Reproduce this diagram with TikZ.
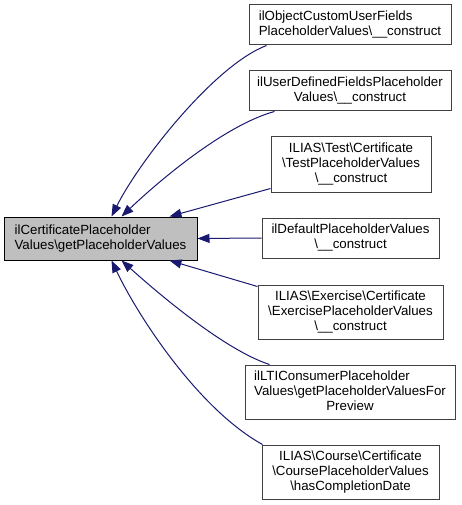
\documentclass[tikz,border=0pt]{standalone}
\usepackage{fontspec}
\setmainfont{Liberation Sans}
\usetikzlibrary{arrows.meta}
\definecolor{edgeblue}{HTML}{191970}
\definecolor{mainfill}{HTML}{BFBFBF}
\definecolor{boxline}{HTML}{404040}
\newcommand{\linesC}[1]{\begin{tabular}{@{}c@{}}#1\end{tabular}}
\newcommand{\linesL}[1]{\begin{tabular}{@{}l@{}}#1\end{tabular}}
\newcommand{\mcc}[1]{\multicolumn{1}{@{}c@{}}{#1}}
\newcommand{\bsl}{\textbackslash}
\begin{document}
\begin{tikzpicture}[x=1pt,y=-1pt,
  box/.style={draw=boxline, fill=white, line width=1pt, inner sep=0pt, font=\fontsize{13.3}{15}\selectfont},
  mainbox/.style={box, draw=black, fill=mainfill},
  edgeline/.style={draw=edgeblue, line width=1pt, {Triangle[length=12pt,width=9pt]}-}]
\useasboundingbox (0,0) rectangle (461,505);
\node[mainbox, minimum width=193pt, minimum height=43pt] (m) at (100.5,238.5)
  {\linesL{ilCertificatePlaceholder\\\mcc{Values\bsl getPlaceholderValues}}};
\node[box, minimum width=202pt, minimum height=40pt] (n1) at (350,25)
  {\linesL{ilObjectCustomUserFields\\\mcc{PlaceholderValues\bsl\_\_construct}}};
\node[box, minimum width=202pt, minimum height=40pt] (n2) at (350,91)
  {\linesC{ilUserDefinedFieldsPlaceholder\\Values\bsl\_\_construct}};
\node[box, minimum width=160pt, minimum height=55pt] (n3) at (351,164.5)
  {\linesC{ILIAS\bsl Test\bsl Certificate\\\bsl TestPlaceholderValues\\\bsl\_\_construct}};
\node[box, minimum width=177pt, minimum height=40pt] (n4) at (350.5,238)
  {\linesC{ilDefaultPlaceholderValues\\\bsl\_\_construct}};
\node[box, minimum width=185pt, minimum height=54pt] (n5) at (350.5,312)
  {\linesC{ILIAS\bsl Exercise\bsl Certificate\\\bsl ExercisePlaceholderValues\\\bsl\_\_construct}};
\node[box, minimum width=210pt, minimum height=54pt] (n6) at (350,392)
  {\linesL{ilLTIConsumerPlaceholder\\\mcc{Values\bsl getPlaceholderValuesFor}\\\mcc{Preview}}};
\node[box, minimum width=177pt, minimum height=54pt] (n7) at (350.5,472)
  {\linesC{ILIAS\bsl Course\bsl Certificate\\\bsl CoursePlaceholderValues\\\bsl hasCompletionDate}};
\draw[edgeline] ([xshift=108pt]m.north west) .. controls (140,160) and (215,65) .. ([xshift=18pt]n1.south west);
\draw[edgeline] ([xshift=118pt]m.north west) .. controls (160,180) and (225,125) .. ([xshift=26pt]n2.south west);
\draw[edgeline] ([xshift=166pt]m.north west) -- ([yshift=4pt]n3.south west);
\draw[edgeline] (m.east) -- (n4.west);
\draw[edgeline] ([xshift=166pt]m.south west) -- ([yshift=-2pt]n5.north west);
\draw[edgeline] ([xshift=118pt]m.south west) .. controls (160,295) and (225,350) .. ([xshift=25pt]n6.north west);
\draw[edgeline] ([xshift=108pt]m.south west) .. controls (140,320) and (200,410) .. ([xshift=1pt]n7.north west);
\end{tikzpicture}
\end{document}
